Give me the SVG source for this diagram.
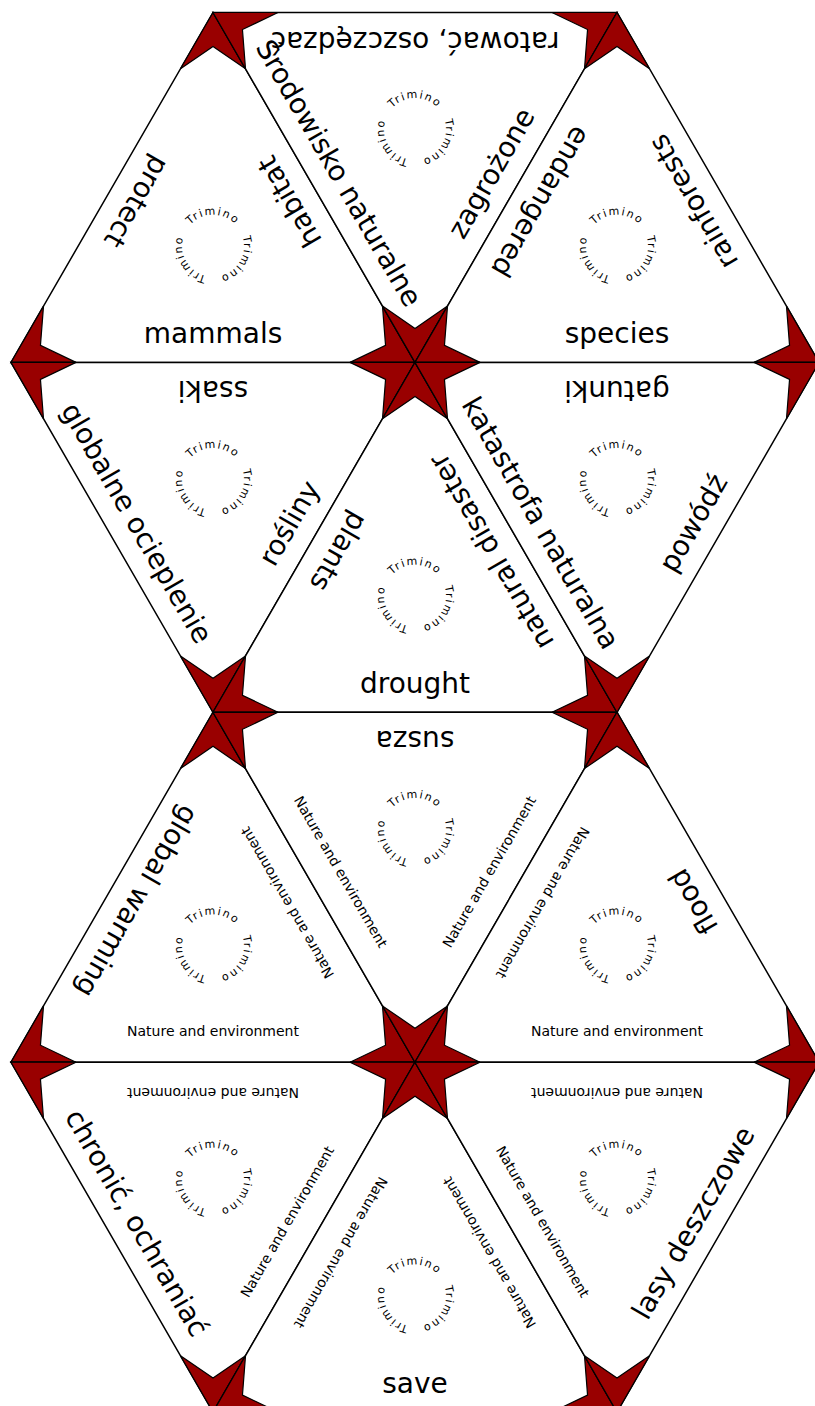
<svg xmlns="http://www.w3.org/2000/svg" xmlns:xlink="http://www.w3.org/1999/xlink" width="815" height="1406" viewBox="0 0 815 1406">
<style>
.tri{fill:#fff;stroke:#000;stroke-width:1.5;stroke-linejoin:miter}
.k{fill:#990000;stroke:#000;stroke-width:1.2;stroke-linejoin:miter}
.big{font-family:'DejaVu Sans','Liberation Sans',sans-serif;font-size:28px;text-anchor:middle;fill:#000}
.sm{font-family:'DejaVu Sans','Liberation Sans',sans-serif;font-size:14px;text-anchor:middle;fill:#000}
.tm{font-family:'DejaVu Sans','Liberation Sans',sans-serif;font-size:11px;letter-spacing:1.6px;fill:#000}
</style>
<defs>
<path id="k" class="k" d="M0,0 L-32.5,56.3 L0,34 L32.5,56.3 Z"/>
<path id="arc" d="M-31,0 A31,31 0 0 1 31,0" fill="none"/>
<g id="tm">
<text class="tm"><textPath href="#arc" xlink:href="#arc" startOffset="50%" text-anchor="middle">Trimino</textPath></text>
<g transform="rotate(120)"><text class="tm"><textPath href="#arc" xlink:href="#arc" startOffset="50%" text-anchor="middle">Trimino</textPath></text></g>
<g transform="rotate(240)"><text class="tm"><textPath href="#arc" xlink:href="#arc" startOffset="50%" text-anchor="middle">Trimino</textPath></text></g>
</g>
</defs>
<g id="connectors"></g>

<g id="t1">
<polygon class="tri" points="11,362.4 415,362.4 213,12.5"/>
<use href="#k" transform="translate(11,362.4) rotate(-120)"/>
<use href="#k" transform="translate(415,362.4) rotate(120)"/>
<use href="#k" transform="translate(213,12.5)"/>
<use href="#tm" transform="translate(213,245.8)"/>
<text class="big" transform="translate(213,362.4)" y="-19">mammals</text>
<text class="big" transform="translate(112,187.45) rotate(120)" y="-19">protect</text>
<text class="big" transform="translate(314,187.45) rotate(-120)" y="-19">habitat</text>
</g>

<g id="t2">
<polygon class="tri" points="213,12.5 617,12.5 415,362.4"/>
<use href="#k" transform="translate(213,12.5) rotate(-60)"/>
<use href="#k" transform="translate(617,12.5) rotate(60)"/>
<use href="#k" transform="translate(415,362.4) rotate(180)"/>
<use href="#tm" transform="translate(415,129.1)"/>
<text class="big" transform="translate(415,12.5) rotate(180)" y="-19">ratować, oszczędzać</text>
<text class="big" transform="translate(314,187.45) rotate(60)" y="-19">Środowisko naturalne</text>
<text class="big" transform="translate(516,187.45) rotate(-60)" y="-19">zagrożone</text>
</g>

<g id="t3">
<polygon class="tri" points="415,362.4 819,362.4 617,12.5"/>
<use href="#k" transform="translate(415,362.4) rotate(-120)"/>
<use href="#k" transform="translate(819,362.4) rotate(120)"/>
<use href="#k" transform="translate(617,12.5)"/>
<use href="#tm" transform="translate(617,245.8)"/>
<text class="big" transform="translate(617,362.4)" y="-19">species</text>
<text class="big" transform="translate(516,187.45) rotate(120)" y="-19">endangered</text>
<text class="big" transform="translate(718,187.45) rotate(-120)" y="-19">rainforests</text>
</g>

<g id="t4">
<polygon class="tri" points="11,362.4 415,362.4 213,712.3"/>
<use href="#k" transform="translate(11,362.4) rotate(-60)"/>
<use href="#k" transform="translate(415,362.4) rotate(60)"/>
<use href="#k" transform="translate(213,712.3) rotate(180)"/>
<use href="#tm" transform="translate(213,479)"/>
<text class="big" transform="translate(213,362.4) rotate(180)" y="-19">ssaki</text>
<text class="big" transform="translate(112,537.35) rotate(60)" y="-19">globalne ocieplenie</text>
<text class="big" transform="translate(314,537.35) rotate(-60)" y="-19">rośliny</text>
</g>

<g id="t5">
<polygon class="tri" points="213,712.3 617,712.3 415,362.4"/>
<use href="#k" transform="translate(213,712.3) rotate(-120)"/>
<use href="#k" transform="translate(617,712.3) rotate(120)"/>
<use href="#k" transform="translate(415,362.4)"/>
<use href="#tm" transform="translate(415,595.7)"/>
<text class="big" transform="translate(415,712.3)" y="-19">drought</text>
<text class="big" transform="translate(314,537.35) rotate(120)" y="-19">plants</text>
<text class="big" transform="translate(516,537.35) rotate(-120)" y="-19">natural disaster</text>
</g>

<g id="t6">
<polygon class="tri" points="415,362.4 819,362.4 617,712.3"/>
<use href="#k" transform="translate(415,362.4) rotate(-60)"/>
<use href="#k" transform="translate(819,362.4) rotate(60)"/>
<use href="#k" transform="translate(617,712.3) rotate(180)"/>
<use href="#tm" transform="translate(617,479)"/>
<text class="big" transform="translate(617,362.4) rotate(180)" y="-19">gatunki</text>
<text class="big" transform="translate(516,537.35) rotate(60)" y="-19">katastrofa naturalna</text>
<text class="big" transform="translate(718,537.35) rotate(-60)" y="-19">powódź</text>
</g>

<g id="t7">
<polygon class="tri" points="11,1062.2 415,1062.2 213,712.3"/>
<use href="#k" transform="translate(11,1062.2) rotate(-120)"/>
<use href="#k" transform="translate(415,1062.2) rotate(120)"/>
<use href="#k" transform="translate(213,712.3)"/>
<use href="#tm" transform="translate(213,945.6)"/>
<text class="sm" transform="translate(213,1062.2)" y="-26">Nature and environment</text>
<text class="big" transform="translate(112,887.25) rotate(120)" y="-19">global warming</text>
<text class="sm" transform="translate(314,887.25) rotate(-120)" y="-26">Nature and environment</text>
</g>

<g id="t8">
<polygon class="tri" points="213,712.3 617,712.3 415,1062.2"/>
<use href="#k" transform="translate(213,712.3) rotate(-60)"/>
<use href="#k" transform="translate(617,712.3) rotate(60)"/>
<use href="#k" transform="translate(415,1062.2) rotate(180)"/>
<use href="#tm" transform="translate(415,828.9)"/>
<text class="big" transform="translate(415,712.3) rotate(180)" y="-19">susza</text>
<text class="sm" transform="translate(314,887.25) rotate(60)" y="-26">Nature and environment</text>
<text class="sm" transform="translate(516,887.25) rotate(-60)" y="-26">Nature and environment</text>
</g>

<g id="t9">
<polygon class="tri" points="415,1062.2 819,1062.2 617,712.3"/>
<use href="#k" transform="translate(415,1062.2) rotate(-120)"/>
<use href="#k" transform="translate(819,1062.2) rotate(120)"/>
<use href="#k" transform="translate(617,712.3)"/>
<use href="#tm" transform="translate(617,945.6)"/>
<text class="sm" transform="translate(617,1062.2)" y="-26">Nature and environment</text>
<text class="sm" transform="translate(516,887.25) rotate(120)" y="-26">Nature and environment</text>
<text class="big" transform="translate(718,887.25) rotate(-120)" y="-19">flood</text>
</g>

<g id="t10">
<polygon class="tri" points="11,1062.2 415,1062.2 213,1412.1"/>
<use href="#k" transform="translate(11,1062.2) rotate(-60)"/>
<use href="#k" transform="translate(415,1062.2) rotate(60)"/>
<use href="#k" transform="translate(213,1412.1) rotate(180)"/>
<use href="#tm" transform="translate(213,1178.8)"/>
<text class="sm" transform="translate(213,1062.2) rotate(180)" y="-26">Nature and environment</text>
<text class="big" transform="translate(112,1237.15) rotate(60)" y="-19">chronić, ochraniać</text>
<text class="sm" transform="translate(314,1237.15) rotate(-60)" y="-26">Nature and environment</text>
</g>

<g id="t11">
<polygon class="tri" points="213,1412.1 617,1412.1 415,1062.2"/>
<use href="#k" transform="translate(213,1412.1) rotate(-120)"/>
<use href="#k" transform="translate(617,1412.1) rotate(120)"/>
<use href="#k" transform="translate(415,1062.2)"/>
<use href="#tm" transform="translate(415,1295.5)"/>
<text class="big" transform="translate(415,1412.1)" y="-19">save</text>
<text class="sm" transform="translate(314,1237.15) rotate(120)" y="-26">Nature and environment</text>
<text class="sm" transform="translate(516,1237.15) rotate(-120)" y="-26">Nature and environment</text>
</g>

<g id="t12">
<polygon class="tri" points="415,1062.2 819,1062.2 617,1412.1"/>
<use href="#k" transform="translate(415,1062.2) rotate(-60)"/>
<use href="#k" transform="translate(819,1062.2) rotate(60)"/>
<use href="#k" transform="translate(617,1412.1) rotate(180)"/>
<use href="#tm" transform="translate(617,1178.8)"/>
<text class="sm" transform="translate(617,1062.2) rotate(180)" y="-26">Nature and environment</text>
<text class="sm" transform="translate(516,1237.15) rotate(60)" y="-26">Nature and environment</text>
<text class="big" transform="translate(718,1237.15) rotate(-60)" y="-19">lasy deszczowe</text>
</g>
</svg>
